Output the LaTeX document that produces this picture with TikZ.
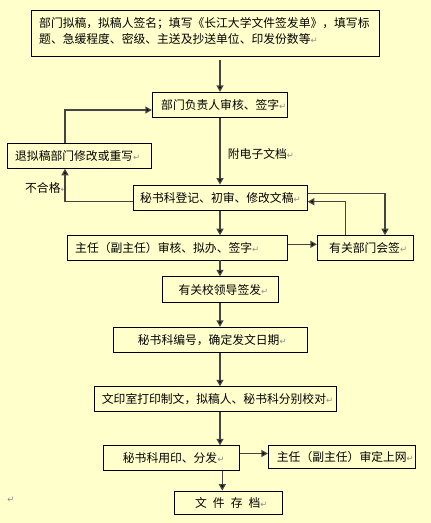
\documentclass[tikz,border=0pt]{standalone}
\usepackage{fontspec}
\newfontfamily\cjk{Noto Sans CJK SC}
\newfontfamily\dejavu{DejaVu Sans}
\usetikzlibrary{arrows.meta}
\definecolor{bgyellow}{HTML}{FFFFCC}
\definecolor{linegray}{HTML}{444444}
\definecolor{retgray}{HTML}{8C8C8C}
\newcommand\retmark{{\color{retgray}\dejavu\fontsize{8.5}{9}\selectfont ↵}}
\tikzset{
  box/.style={draw=black, line width=0.9pt, rectangle, inner sep=0pt},
  txt/.style={inner sep=0pt, anchor=west, font=\cjk\fontsize{11.8}{16}\selectfont, text=black},
  arr/.style={draw=linegray, line width=1.3pt, -{Triangle[length=6.5pt,width=7pt,fill=black]}},
}
\begin{document}
\begin{tikzpicture}[x=1pt,y=-1pt]
\path[fill=bgyellow] (0,0) rectangle (431,523);
\useasboundingbox (0,0) rectangle (431,523);
% boxes
\node[box, minimum width=347.6pt, minimum height=45.6pt] (b1) at (205.5,33.5) {};
\node[box, minimum width=135pt, minimum height=25pt] (b2) at (219.8,104.8) {};
\node[box, minimum width=144.4pt, minimum height=25pt] (b3) at (79.5,155.8) {};
\node[box, minimum width=174pt, minimum height=25.3pt] (b4) at (220.3,197.7) {};
\node[box, minimum width=220pt, minimum height=24.3pt] (b5) at (177.3,247.8) {};
\node[box, minimum width=96pt, minimum height=24.3pt] (b6) at (365.3,247.8) {};
\node[box, minimum width=116pt, minimum height=25.6pt] (b7) at (220.3,289.5) {};
\node[box, minimum width=194pt, minimum height=25pt] (b8) at (210.3,339.8) {};
\node[box, minimum width=241.7pt, minimum height=25pt] (b9) at (215.2,399.2) {};
\node[box, minimum width=136pt, minimum height=24.6pt] (b10) at (171.3,458) {};
\node[box, minimum width=147.4pt, minimum height=23pt] (b11) at (342,456.8) {};
\node[box, minimum width=108pt, minimum height=23.3pt] (b12) at (228.3,502.7) {};
% texts
\node[txt, align=left] (t1) at (39,31) {部门拟稿，拟稿人签名；填写《长江大学文件签发单》，填写标\\题、急缓程度、密级、主送及抄送单位、印发份数等\retmark};
\node[txt] (t2) at (161,104.8) {部门负责人审核、签字\retmark};
\node[txt] (t3) at (15,155.8) {退拟稿部门修改或重写\retmark};
\node[txt] (t4) at (140,197.7) {秘书科登记、初审、修改文稿\retmark};
\node[txt] (t5) at (75,247.8) {主任（副主任）审核、拟办、签字\retmark};
\node[txt] (t6) at (329,247.8) {有关部门会签\retmark};
\node[txt] (t7) at (178.3,289.5) {有关校领导签发\retmark};
\node[txt] (t8) at (137.7,339.8) {秘书科编号，确定发文日期\retmark};
\node[txt] (t9) at (101.7,399.2) {文印室打印制文，拟稿人、秘书科分别校对\retmark};
\node[txt] (t10) at (122.7,458) {秘书科用印、分发\retmark};
\node[txt] (t11) at (276.7,456.8) {主任（副主任）审定上网\retmark};
\node[txt] (t12) at (195,502.7) {文\hspace{6pt}件\hspace{6pt}存\hspace{6pt}档\retmark};
% labels
\node[txt] (l1) at (227.7,154.3) {附电子文档\retmark};
\node[txt] (l2) at (25,188.3) {不合格\retmark};
\node[inner sep=0pt] (stray) at (11,500) {\retmark};
% spine coordinates
\coordinate (sp) at (220,0);
\coordinate (sp2) at (222.3,0);
% connectors
\draw[arr] ([yshift=-3pt]b1.south -| sp) -- (b2.north -| sp);
\draw[arr] (b2.south -| sp) -- (b4.north -| sp);
\draw[arr] (b4.south -| sp) -- (b5.north -| sp);
\draw[arr] (b5.south -| sp) -- (b7.north -| sp);
\draw[arr] (b7.south -| sp) -- (b8.north -| sp);
\draw[arr] (b8.south -| sp) -- (b9.north -| sp);
\draw[arr] (b9.south -| sp) -- (b10.north -| sp);
\draw[arr] (b10.south -| sp2) -- (b12.north -| sp2);
\draw[arr] ([yshift=3.5pt]b5.east) -- ([yshift=3.5pt]b5.east -| b6.west);
\draw[arr] ([yshift=4.5pt]b10.east) -- ([yshift=4.5pt]b10.east -| b11.west);
\draw[arr] ([yshift=4.4pt]b4.east) -| ([xshift=19.7pt]b6.north);
\draw[arr] ([xshift=-19.6pt]b6.north) |- ([yshift=-4pt]b4.east);
\draw[arr] ([yshift=-4pt]b4.west) -| ([xshift=-14.5pt]b3.south);
\draw[arr] ([xshift=-14.5pt]b3.north) |- ([yshift=-5.2pt]b2.west);
\end{tikzpicture}
\end{document}
